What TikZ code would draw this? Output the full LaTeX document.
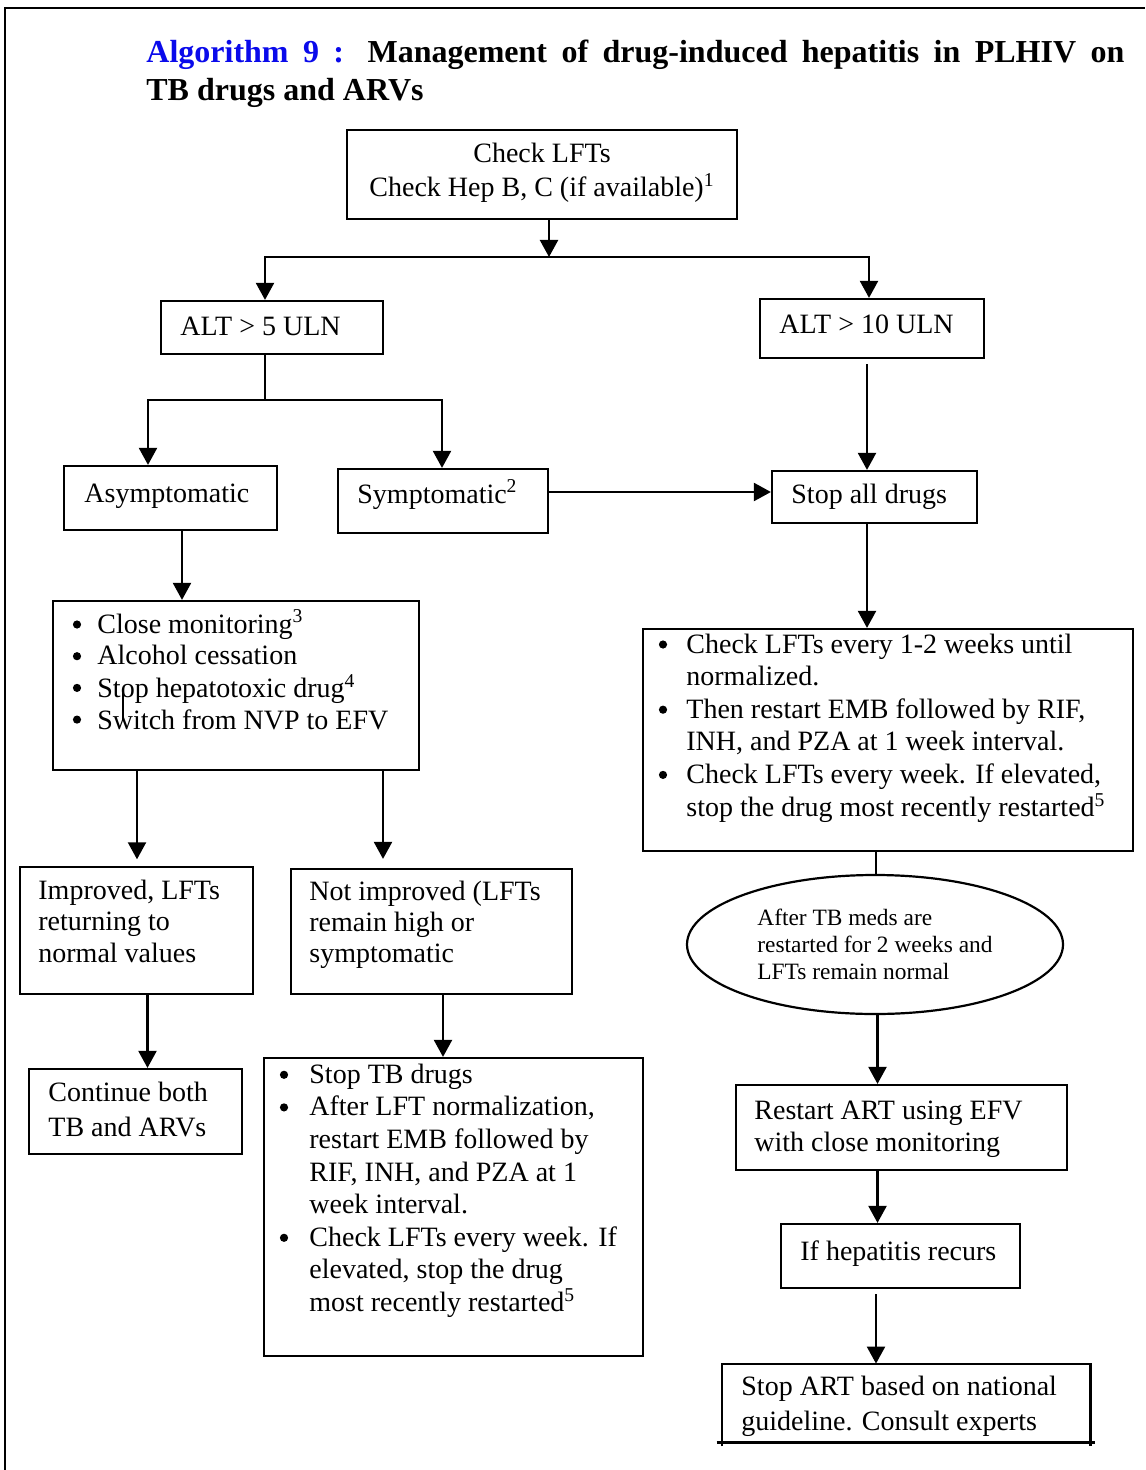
\documentclass[tikz,border=0pt]{standalone}
\usepackage{fontspec}
\setmainfont{Liberation Serif}
\usetikzlibrary{arrows.meta,calc,fit,shapes.geometric}
\definecolor{algblue}{RGB}{10,10,235}

% text block: font size 14pt with the given line distance
\newcommand{\txtlines}[2]{\fontsize{14}{#1}\selectfont\begin{tabular}[t]{@{}l@{}}#2\end{tabular}}

\tikzset{
  box/.style={draw, line width=1.1pt, inner sep=0pt},
  link/.style={line width=1.1pt},
  arr/.style={line width=1.1pt, -{Triangle[width=9pt,length=8.5pt]}},
  txt/.style={anchor=base west, inner sep=0pt},
  bdot/.style={fill, circle, inner sep=0pt, minimum size=4.1pt},
}

\begin{document}
\begin{tikzpicture}[x=0.5pt,y=-0.5pt]
\useasboundingbox (0,0) rectangle (1145,1470);

% page frame (top and left rules)
\draw[line width=1.4pt] (5,1470) -- (5,8) -- (1145,8);

% title
\node[txt] (title) at (146,62.7) {\fontsize{16}{18.7}\selectfont\bfseries
  \begin{tabular}[t]{@{}l@{}}
  \makebox[489pt][s]{\textcolor{algblue}{Algorithm 9 :} Management of drug-induced hepatitis in PLHIV on}\\
  TB drugs and ARVs
  \end{tabular}};

% boxes
\node[box, fit={(347,130) (737,219)}] (check) {};
\node[box, fit={(161,301) (383,354)}] (alt5) {};
\node[box, fit={(760,299) (984,358)}] (alt10) {};
\node[box, fit={(64,466) (277,530)}] (asym) {};
\node[box, fit={(338,469) (548,533)}] (sym) {};
\node[box, fit={(772,471) (977,523)}] (stopall) {};
\node[box, fit={(53,601) (419,770)}] (leftbul) {};
\node[box, fit={(643,629) (1133,851)}] (rightbul) {};
\node[box, fit={(20,867) (253,994)}] (improved) {};
\node[box, fit={(291,869) (572,994)}] (notimp) {};
\node[box, fit={(29,1069) (242,1154)}] (continue) {};
\node[box, fit={(264,1058) (643,1356)}] (stoptb) {};
\node[draw, line width=1.1pt, ellipse, inner sep=0pt, minimum width=188pt, minimum height=69.5pt] (ell) at (875,944.5) {};
\node[box, fit={(736,1085) (1067,1170)}] (restart) {};
\node[box, fit={(781,1224) (1020,1288)}] (ifhep) {};
\node[inner sep=0pt, fit={(722,1364) (1090,1442)}] (stopart) {};
\draw[line width=1.1pt] ([yshift=-2pt]stopart.south west) -- (stopart.north west)
  -- (stopart.north east) -- ([yshift=-2pt]stopart.south east);
\draw[line width=1.4pt] ([xshift=-2.5pt]stopart.south west) -- ([xshift=2.5pt]stopart.south east);

% texts
\node[anchor=base, inner sep=0pt] (checkt) at (542,162.7) {\fontsize{14}{17}\selectfont
  \begin{tabular}[t]{@{}c@{}}Check LFTs\\ Check Hep B, C (if available)\textsuperscript{1}\end{tabular}};
\node[txt] (alt5t) at (180,336) {\txtlines{16}{ALT > 5 ULN}};
\node[txt] (alt10t) at (779,334) {\txtlines{16}{ALT > 10 ULN}};
\node[txt] (asymt) at (84,502) {\txtlines{16}{Asymptomatic}};
\node[txt] (symt) at (357,503) {\txtlines{16}{Symptomatic\textsuperscript{2}}};
\node[txt] (stopallt) at (791,503) {\txtlines{16}{Stop all drugs}};
\node[txt] (leftbult) at (97,633) {\txtlines{15.85}{%
  Close monitoring\textsuperscript{3}\\
  Alcohol cessation\\
  Stop hepatotoxic drug\textsuperscript{4}\\
  Switch from NVP to EFV}};
\node[txt] (rightbult) at (686,653) {\txtlines{16.3}{%
  Check LFTs every 1-2 weeks until\\
  normalized.\\
  Then restart EMB followed by RIF,\\
  INH, and PZA at 1 week interval.\\
  Check LFTs every week. If elevated,\\
  stop the drug most recently restarted\textsuperscript{5}}};
\node[txt] (improvedt) at (38,899) {\txtlines{15.85}{Improved, LFTs\\ returning to\\ normal values}};
\node[txt] (notimpt) at (309,900) {\txtlines{15.7}{Not improved (LFTs\\ remain high or\\ symptomatic}};
\node[txt] (continuet) at (48,1101.7) {\txtlines{17.15}{Continue both\\ TB and ARVs}};
\node[txt] (stoptbt) at (309,1083.3) {\txtlines{16.3}{%
  Stop TB drugs\\
  After LFT normalization,\\
  restart EMB followed by\\
  RIF, INH, and PZA at 1\\
  week interval.\\
  Check LFTs every week. If\\
  elevated, stop the drug\\
  most recently restarted\textsuperscript{5}}};
\node[txt] (ellt) at (757,925) {\fontsize{11.7}{13.6}\selectfont
  \begin{tabular}[t]{@{}l@{}}After TB meds are\\ restarted for 2 weeks and\\ LFTs remain normal\end{tabular}};
\node[txt] (restartt) at (754,1119) {\txtlines{16.2}{Restart ART using EFV\\ with close monitoring}};
\node[txt] (ifhept) at (800,1260) {\txtlines{16}{If hepatitis recurs}};
\node[txt] (stopartt) at (741,1395) {\txtlines{17.5}{Stop ART based on national\\ guideline. Consult experts}};

% list bullets, set 8.5px above each item's baseline
\foreach \yy in {624.5,656.2,687.9,719.6} \node[bdot] at (77,\yy) {};
\foreach \yy in {644.5,709.7,774.9} \node[bdot] at (663,\yy) {};
\foreach \yy in {1074.8,1107.4,1237.8} \node[bdot] at (284,\yy) {};

% small stray stroke inside the first bullet box
\draw[line width=0.6pt] (123,693) -- (123,720);

% connector columns and rows
\coordinate (jA) at (549,257);
\coordinate (jL) at (265,257);
\coordinate (jR) at (869,257);
\coordinate (sM) at (265,400);
\coordinate (sL) at (148,400);
\coordinate (sR) at (442,400);
\coordinate (hy) at (0,492);
\coordinate (cR) at (867,0);
\coordinate (cE) at (876,0);
\coordinate (cE2) at (877.5,0);
\coordinate (cAs) at (182,0);
\coordinate (cI) at (137,0);
\coordinate (cN) at (383,0);
\coordinate (cI2) at (147.5,0);
\coordinate (cN2) at (443,0);

% connectors
\draw[arr] (check.south -| jA) -- (jA);
\draw[arr] (jA) -- (jL) -- (jL |- alt5.north);
\draw[arr] (jA) -- (jR) -- (jR |- alt10.north);
\draw[link] (alt5.south -| sM) -- (sM);
\draw[arr] (sM) -- (sL) -- (sL |- asym.north);
\draw[arr] (sM) -- (sR) -- (sR |- sym.north);
\draw[arr] (sym.east |- hy) -- (stopall.west |- hy);
\draw[arr, shorten <=2.5pt] (alt10.south -| cR) -- (stopall.north -| cR);
\draw[arr] (stopall.south -| cR) -- (rightbul.north -| cR);
\draw[link] (rightbul.south -| cE) -- (ell.north -| cE);
\draw[arr] (ell.south -| cE2) -- (restart.north -| cE2);
\draw[arr] (restart.south -| cE2) -- (ifhep.north -| cE2);
\draw[arr, shorten <=2.5pt] (ifhep.south -| cE) -- (stopart.north -| cE);
\draw[arr] (asym.south -| cAs) -- (leftbul.north -| cAs);
\draw[arr, shorten >=3.3pt] (leftbul.south -| cI) -- (improved.north -| cI);
\draw[arr, shorten >=4.5pt] (leftbul.south -| cN) -- (notimp.north -| cN);
\draw[arr] (improved.south -| cI2) -- (continue.north -| cI2);
\draw[arr] (notimp.south -| cN2) -- (stoptb.north -| cN2);
\end{tikzpicture}
\end{document}
